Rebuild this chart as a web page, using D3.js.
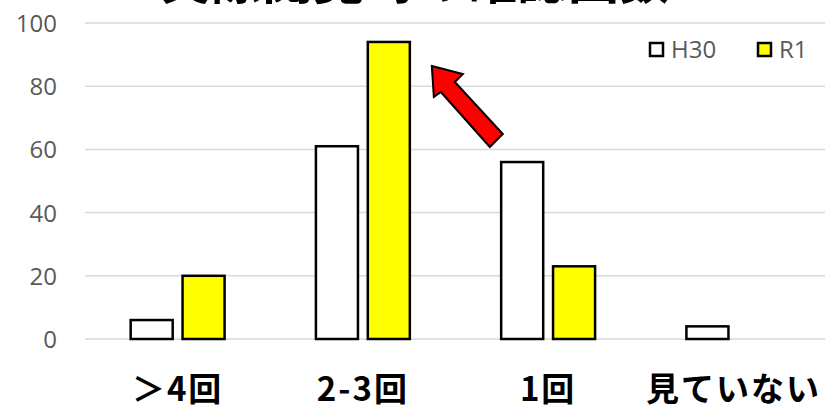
<!DOCTYPE html>
<html>
<head>
<meta charset="utf-8">
<script src="https://cdn.jsdelivr.net/npm/d3@7"></script>
<style>
html,body{margin:0;padding:0;background:#fff;}
svg{display:block;}
</style>
</head>
<body>
<svg id="chart" width="825" height="410"></svg>
<script>
const title = "実際閲覧時の確認回数";
const categories = ["＞4回", "2-3回", "1回", "見ていない"];
const seriesNames = ["H30", "R1"];
const seriesColors = ["#ffffff", "#ffff00"];
const h30 = [6, 61, 56, 4];
const r1 = [20, 94, 23, 0];
const yTicks = [0, 20, 40, 60, 80, 100];

const data = categories.map((c, i) => ({cat: c, values: [h30[i], r1[i]]}));

const svg = d3.select("#chart");
const W = 825, H = 410;
svg.append("rect").attr("width", W).attr("height", H).attr("fill", "#fff");

const x0 = d3.scaleBand().domain(categories).range([85, 826])
  .paddingInner(0.493).paddingOuter(0.2465);
const x1 = d3.scaleBand().domain(seriesNames).range([0, x0.bandwidth()])
  .paddingInner(0.19).paddingOuter(0);
const y = d3.scaleLinear().domain([0, 100]).range([339, 23]);

// gridlines
svg.append("g").selectAll("line").data(yTicks).join("line")
  .attr("x1", 85).attr("x2", 825)
  .attr("y1", d => y(d)).attr("y2", d => y(d))
  .attr("stroke", "#d9d9d9").attr("stroke-width", 1.5);

// y axis labels
const yAxis = d3.axisLeft(y).tickValues(yTicks).tickSize(0).tickPadding(0);
const gy = svg.append("g").attr("transform", "translate(57,0)").call(yAxis);
gy.select(".domain").remove();
gy.selectAll("text")
  .attr("font-family", "'Open Sans', sans-serif")
  .attr("font-size", 24)
  .attr("fill", "#595959")
  .attr("dy", "0.35em");

// bars
const groups = svg.append("g").selectAll("g").data(data).join("g")
  .attr("transform", d => `translate(${x0(d.cat)},0)`);
groups.selectAll("rect")
  .data(d => d.values.map((v, i) => ({s: seriesNames[i], v, i})).filter(e => e.v > 0))
  .join("rect")
  .attr("x", e => x1(e.s))
  .attr("width", x1.bandwidth())
  .attr("y", e => y(e.v))
  .attr("height", e => y(0) - y(e.v))
  .attr("fill", e => seriesColors[e.i])
  .attr("stroke", "#000")
  .attr("stroke-width", 2.5);

// category labels
const xAxis = d3.axisBottom(x0).tickSize(0).tickPadding(0);
const gx = svg.append("g").attr("transform", "translate(0,389)").call(xAxis);
gx.select(".domain").remove();
gx.selectAll("text")
  .attr("font-family", "'Noto Sans CJK JP', sans-serif")
  .attr("font-weight", "bold")
  .attr("font-size", 33)
  .attr("letter-spacing", 2)
  .attr("fill", "#000")
  .attr("dy", "0.35em");

// title (cropped at top, as in the reference)
svg.append("text")
  .attr("x", 415).attr("y", -1)
  .attr("text-anchor", "middle")
  .attr("font-family", "'Noto Sans CJK JP', sans-serif")
  .attr("font-weight", "bold")
  .attr("font-size", 51)
  .attr("fill", "#000")
  .text(title);

// legend
const legendX = [649, 757];
const lg = svg.append("g").selectAll("g").data(seriesNames).join("g")
  .attr("transform", (d, i) => `translate(${legendX[i]},42)`);
lg.append("rect").attr("x", 1).attr("y", 1).attr("width", 13).attr("height", 13)
  .attr("fill", (d, i) => seriesColors[i]).attr("stroke", "#000").attr("stroke-width", 2.5);
lg.append("text").attr("x", 22).attr("y", 8).attr("dy", "0.35em")
  .attr("font-family", "'Open Sans', sans-serif")
  .attr("font-size", 24)
  .attr("fill", "#595959")
  .text(d => d);

// arrow annotation pointing to R1 2-3回 bar
const bx = x0("2-3回") + x1("R1") + x1.bandwidth();
const by = y(r1[1]);
const arrowPts = [[22, 24], [53, 32], [45, 40], [93, 92], [80, 105], [31, 50], [24, 55]];
svg.append("polygon")
  .attr("points", arrowPts.map(p => [bx + p[0], by + p[1]].join(",")).join(" "))
  .attr("fill", "#ff0000").attr("stroke", "#000").attr("stroke-width", 2).attr("stroke-linejoin", "miter");
</script>
</body>
</html>
